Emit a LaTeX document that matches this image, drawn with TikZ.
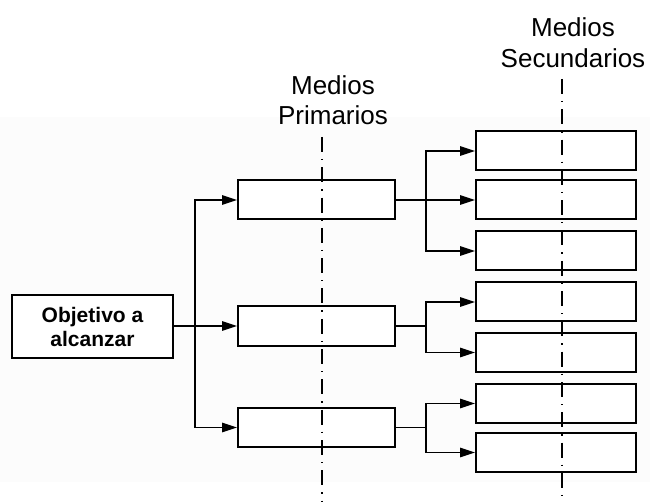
\documentclass[tikz,border=0pt]{standalone}
\usepackage{fontspec}
\setmainfont{Liberation Sans}
\usetikzlibrary{arrows.meta}

\tikzset{
  goalbox/.style={draw=black, line width=2pt, fill=white, minimum width=161pt,
    minimum height=63pt, inner sep=0pt, align=center,
    font={\fontsize{21}{24}\selectfont\bfseries}},
  meanbox/.style={draw=black, line width=2pt, fill=white, minimum width=157pt,
    minimum height=39pt, inner sep=0pt},
  subbox/.style={draw=black, line width=2pt, fill=white, minimum width=160pt,
    minimum height=39pt, inner sep=0pt},
  heading/.style={anchor=base, inner sep=0pt, font={\fontsize{26}{30}\selectfont}},
  link/.style={line width=1.5pt},
  linkarrow/.style={line width=1.5pt, -{Triangle[length=15pt,width=9.5pt]}},
  axisline/.style={line width=1.2pt, dash pattern=on 15pt off 7pt on 1.3pt off 7pt}
}

\begin{document}
\begin{tikzpicture}[x=1pt,y=-1pt]
  % canvas and faint backdrop band
  \fill[white] (0,0) rectangle (650,502);
  \fill[black!1] (0,117) rectangle (650,482);
  \useasboundingbox (0,0) rectangle (650,502);

  % column headings
  \node[heading] (hp1) at (333,95) {Medios};
  \node[heading] (hp2) at (333,125) {Primarios};
  \node[heading] (hs1) at (573,37) {Medios};
  \node[heading] (hs2) at (573,68) {Secundarios};

  % goal
  \node[goalbox] (obj) at (92.5,326.5) {Objetivo a\\alcanzar};

  % primary means
  \node[meanbox] (p1) at (316.5,200) {};
  \node[meanbox] (p2) at (316.5,326) {};
  \node[meanbox] (p3) at (316.5,427.5) {};

  % secondary means
  \node[subbox] (sa) at (556,151) {};
  \node[subbox] (sb) at (556,200) {};
  \node[subbox] (sc) at (556,251) {};
  \node[subbox] (sd) at (556,302) {};
  \node[subbox] (se) at (556,352.5) {};
  \node[subbox] (sf) at (556,403.5) {};
  \node[subbox] (sg) at (556,452.5) {};

  % branch points
  \coordinate (j0) at (195,326);
  \coordinate (j1) at (426,200);
  \coordinate (j2) at (426,326);
  \coordinate (j3) at (426,427.5);

  % goal to primary means
  \draw[link] (obj.east |- j0) -- (j0);
  \draw[linkarrow] (j0) |- (p1.west);
  \draw[linkarrow] (j0) -- (p2.west);
  \draw[linkarrow] (j0) |- (p3.west);

  % primary to secondary means
  \draw[link] (p1.east) -- (j1);
  \draw[linkarrow] (j1) |- (sa.west);
  \draw[linkarrow] (j1) -- (sb.west);
  \draw[linkarrow] (j1) |- (sc.west);

  \draw[link] (p2.east) -- (j2);
  \draw[linkarrow] (j2) |- (sd.west);
  \draw[linkarrow] (j2) |- (se.west);

  \draw[link] (p3.east) -- (j3);
  \draw[linkarrow] (j3) |- (sf.west);
  \draw[linkarrow] (j3) |- (sg.west);

  % column axes
  \coordinate (ap) at (322,137);
  \coordinate (as) at (562,79);
  \draw[axisline] (ap) -- (322,502);
  \draw[axisline] (as) -- (562,502);
\end{tikzpicture}
\end{document}
